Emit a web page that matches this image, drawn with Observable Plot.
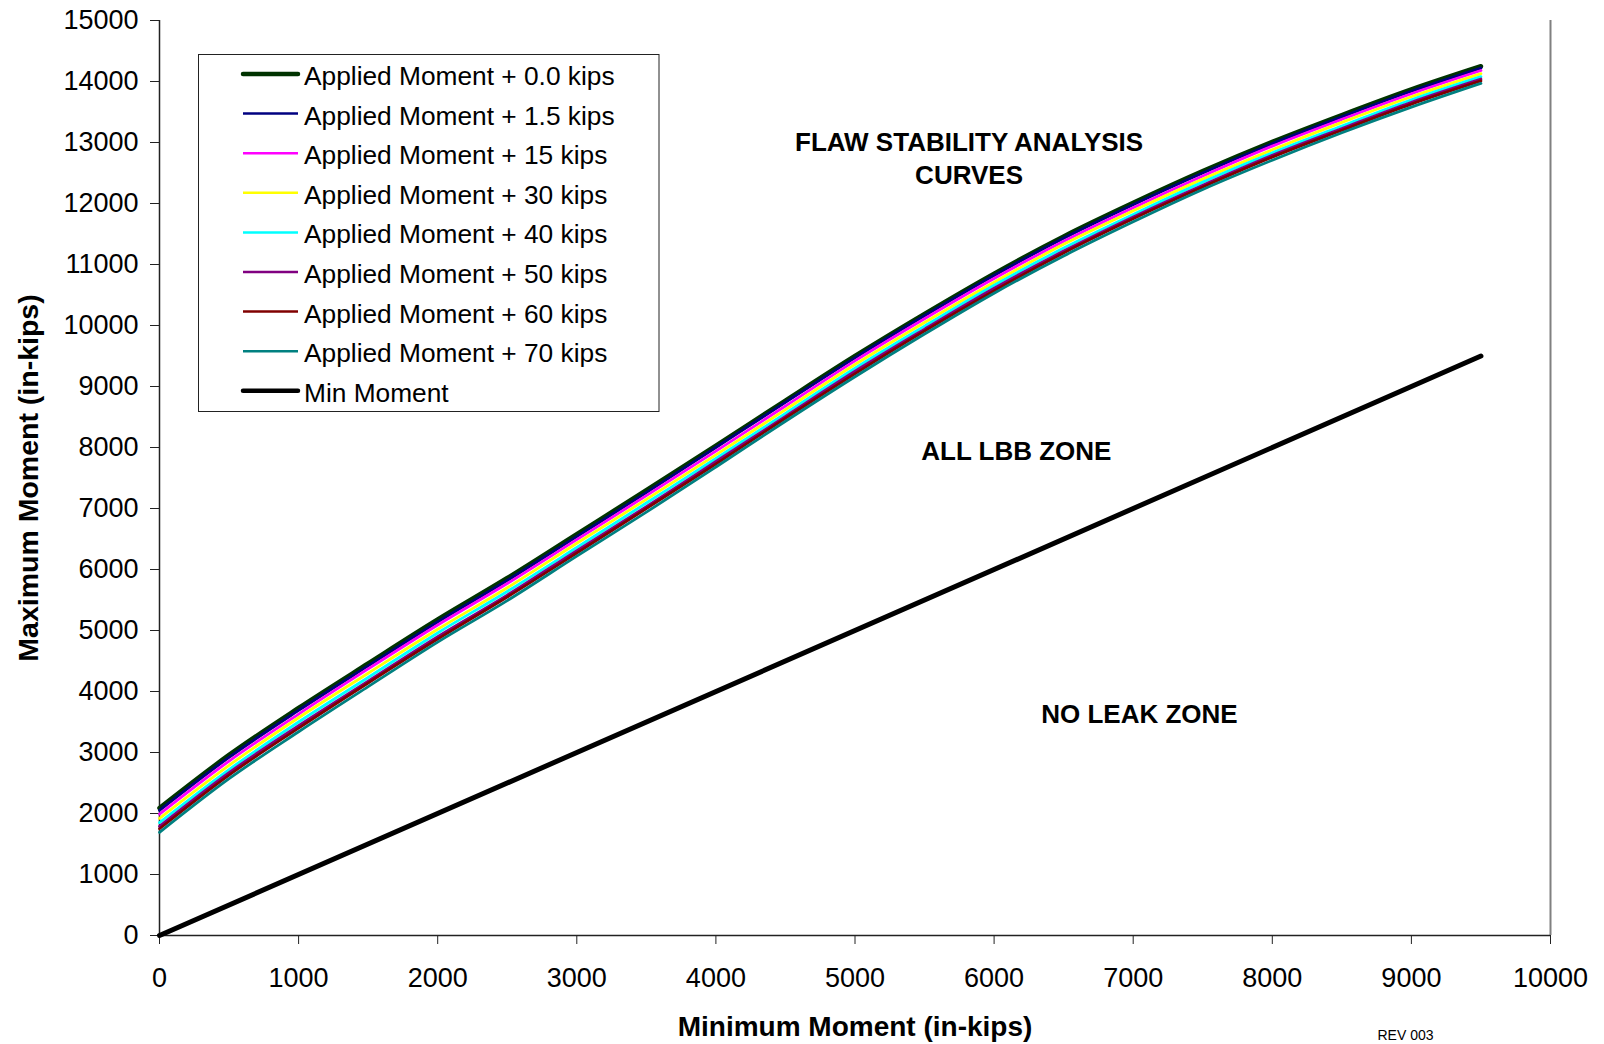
<!DOCTYPE html>
<html>
<head>
<meta charset="utf-8">
<script src="https://cdn.jsdelivr.net/npm/d3@7"></script>
<script src="https://cdn.jsdelivr.net/npm/@observablehq/plot@0.6"></script>
<style>
  html, body { margin: 0; padding: 0; background: #fff; }
  #chart { position: relative; width: 1604px; height: 1044px; }
</style>
</head>
<body>
<div id="chart"></div>
<script>
// ---- data ----
const minMoment = [0, 500, 1000, 1500, 2000, 2500, 3000, 3500, 4000, 4500, 5000, 5500, 6000, 6500, 7000, 7500, 8000, 8500, 9000, 9500];

const seriesNames = [
  "Applied Moment + 0.0 kips",
  "Applied Moment + 1.5 kips",
  "Applied Moment + 15 kips",
  "Applied Moment + 30 kips",
  "Applied Moment + 40 kips",
  "Applied Moment + 50 kips",
  "Applied Moment + 60 kips",
  "Applied Moment + 70 kips"
];
const seriesColors = ["#003300", "#000080", "#ff00ff", "#ffff00", "#00ffff", "#800080", "#800000", "#008080"];

const kips0   = [2090, 2960, 3730, 4460, 5180, 5860, 6580, 7300, 8030, 8770, 9500, 10190, 10850, 11460, 12010, 12530, 13010, 13450, 13870, 14250];
const kips1_5 = [2050, 2920, 3690, 4420, 5140, 5820, 6540, 7260, 8000, 8740, 9470, 10160, 10820, 11430, 11980, 12500, 12980, 13420, 13840, 14220];
const kips15  = [1990, 2860, 3630, 4370, 5090, 5770, 6490, 7210, 7940, 8680, 9420, 10110, 10770, 11380, 11930, 12450, 12940, 13380, 13800, 14180];
const kips30  = [1920, 2790, 3570, 4300, 5020, 5700, 6430, 7150, 7880, 8620, 9360, 10050, 10710, 11330, 11880, 12400, 12880, 13330, 13750, 14130];
const kips40  = [1850, 2720, 3500, 4230, 4960, 5640, 6360, 7090, 7820, 8560, 9300, 9990, 10660, 11270, 11820, 12350, 12830, 13270, 13700, 14080];
const kips50  = [1790, 2670, 3440, 4170, 4900, 5580, 6310, 7030, 7770, 8510, 9250, 9940, 10610, 11220, 11780, 12300, 12790, 13230, 13660, 14040];
const kips60  = [1750, 2630, 3400, 4140, 4860, 5550, 6270, 7000, 7730, 8480, 9210, 9910, 10570, 11190, 11750, 12270, 12760, 13200, 13630, 14010];
const kips70  = [1690, 2570, 3340, 4080, 4810, 5490, 6220, 6940, 7680, 8430, 9160, 9860, 10530, 11140, 11700, 12230, 12710, 13160, 13580, 13970];

const minLineX = [0, 9500];
const minLineY = [0, 9500];

const xTicks = [0, 1000, 2000, 3000, 4000, 5000, 6000, 7000, 8000, 9000, 10000];
const yTicks = [0, 1000, 2000, 3000, 4000, 5000, 6000, 7000, 8000, 9000, 10000, 11000, 12000, 13000, 14000, 15000];

const annotations = [
  {x: 5820, y: 12760, text: "FLAW STABILITY ANALYSIS\nCURVES"},
  {x: 6160, y: 7965, text: "ALL LBB ZONE"},
  {x: 7045, y: 3655, text: "NO LEAK ZONE"}
];

// ---- build ----
const allSeries = [kips0, kips1_5, kips15, kips30, kips40, kips50, kips60, kips70];
const widths = [4.5, 2.8, 2.8, 2.8, 2.8, 2.8, 2.8, 2.8];
const font = "'Liberation Sans', Arial, sans-serif";

const lineMarks = allSeries.map((vals, si) =>
  Plot.line(minMoment.map((x, i) => ({x, y: vals[i]})), {
    x: "x", y: "y", stroke: seriesColors[si], strokeWidth: widths[si], curve: "monotone-x"
  })
);

const minData = minLineX.map((x, i) => ({x, y: minLineY[i]}));

const chart = Plot.plot({
  width: 1604,
  height: 1044,
  marginLeft: 159,
  marginRight: 54,
  marginTop: 20,
  marginBottom: 109,
  style: {fontFamily: font, fontSize: "27px", color: "#000", background: "#fff"},
  x: {domain: [0, 10000]},
  y: {domain: [0, 15000]},
  marks: [
    Plot.axisX({ticks: xTicks, tickFormat: d3.format("d"), tickSize: 9, tickPadding: 23, label: null, stroke: "#222"}),
    Plot.axisY({ticks: yTicks, tickFormat: d3.format("d"), tickSize: 9, tickPadding: 12, label: null, stroke: "#222"}),
    Plot.ruleX([10000], {stroke: "#808080", strokeWidth: 2}),
    Plot.ruleX([0], {stroke: "#222", strokeWidth: 1.5}),
    Plot.ruleY([0], {stroke: "#222", strokeWidth: 1.5}),
    ...lineMarks,
    Plot.line(minData, {x: "x", y: "y", stroke: "#000", strokeWidth: 5, strokeLinecap: "round"}),
    Plot.text(annotations, {x: "x", y: "y", text: "text", fontSize: 26, fontWeight: "bold", fill: "#000", lineHeight: 1.27, textAnchor: "middle"}),
    Plot.text(["Minimum Moment (in-kips)"], {frameAnchor: "bottom", dy: 100, textAnchor: "middle", fontSize: 28, fontWeight: "bold", fill: "#000"}),
    Plot.text(["Maximum Moment (in-kips)"], {frameAnchor: "left", dx: -131, rotate: -90, textAnchor: "middle", fontSize: 28.5, fontWeight: "bold", fill: "#000"}),
    Plot.text(["REV 003"], {frameAnchor: "bottom-right", dx: -145, dy: 104, textAnchor: "middle", fontSize: 14, fill: "#000"})
  ]
});

document.getElementById("chart").appendChild(chart);

// ---- legend (drawn into the same svg) ----
const legendNames = [...seriesNames, "Min Moment"];
const legendColors = [...seriesColors, "#000"];
const legendWidths = [4.5, 2.5, 2.5, 2.5, 2.5, 2.5, 2.5, 2.5, 4.5];
const svg = d3.select(chart);
const lg = svg.append("g").attr("class", "legend").attr("text-anchor", "start");
lg.append("rect")
  .attr("x", 198.5).attr("y", 54.5).attr("width", 460.5).attr("height", 357)
  .attr("fill", "#fff").attr("stroke", "#222").attr("stroke-width", 1);
const rows = lg.selectAll("g.row").data(legendNames).join("g")
  .attr("class", "row")
  .attr("transform", (d, i) => `translate(0, ${74 + i * 39.6})`);
rows.append("line")
  .attr("x1", 243).attr("x2", 298).attr("y1", 0).attr("y2", 0)
  .attr("stroke", (d, i) => legendColors[i])
  .attr("stroke-width", (d, i) => legendWidths[i])
  .attr("stroke-linecap", (d, i) => legendWidths[i] > 3 ? "round" : "butt");
rows.append("text")
  .attr("x", 304).attr("y", 0).attr("dy", "0.42em")
  .attr("text-anchor", "start")
  .attr("font-size", 26.3).attr("font-family", font).attr("fill", "#000")
  .text(d => d);
</script>
</body>
</html>
